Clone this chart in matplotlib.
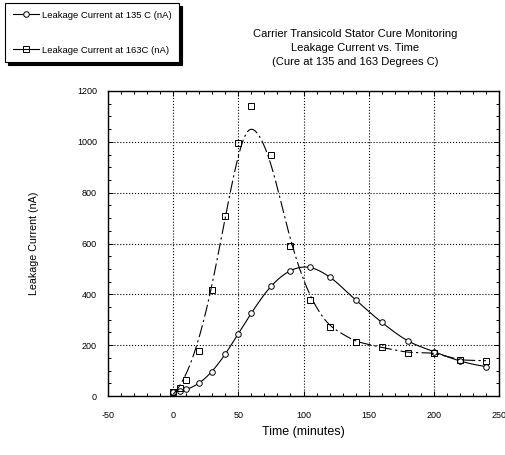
import numpy as np
import matplotlib.pyplot as plt
from matplotlib.ticker import MultipleLocator

plt.rcParams['font.family'] = ['Liberation Sans', 'DejaVu Sans']
plt.rcParams['axes.unicode_minus'] = False

# cure run at 135 C
t135 = [0, 5, 10, 20, 30, 40, 50, 60, 75, 90, 105, 120, 140, 160, 180, 200, 220, 240]
i135 = [17, 20, 27, 51, 96, 167, 245, 328, 432, 493, 507, 467, 378, 290, 217, 175, 138, 116]
# cure run at 163 C
t163 = [0, 5, 10, 20, 30, 40, 50, 60, 75, 90, 105, 120, 140, 160, 180, 200, 220, 240]
i163 = [17, 33, 64, 179, 417, 708, 994, 1142, 947, 591, 378, 270, 214, 191, 171, 170, 141, 139]

lab135 = 'Leakage Current at 135 C (nA)'
lab163 = 'Leakage Current at 163C (nA)'
title = 'Carrier Transicold Stator Cure Monitoring\nLeakage Current vs. Time\n(Cure at 135 and 163 Degrees C)'


def smooth(x, y, h, deg=2, n=400):
    # local polynomial regression with gaussian weights
    x = np.asarray(x, float); y = np.asarray(y, float)
    xs = np.linspace(x.min(), x.max(), n)
    ys = []
    for x0 in xs:
        w = np.exp(-0.5 * ((x - x0) / h) ** 2)
        A = np.vstack([(x - x0) ** p for p in range(deg + 1)]).T
        W = np.sqrt(w)
        coef = np.linalg.lstsq(A * W[:, None], y * W, rcond=None)[0]
        ys.append(coef[0])
    return xs, np.array(ys)


fig = plt.figure(figsize=(5.06, 4.55), dpi=100)
ax = fig.add_axes([108/506, 1-396/455, (499-108)/506, (396-91)/455])

xs, ys = smooth(t135, i135, 12)
ax.plot(xs, ys, '-', color='black', lw=0.8)
ax.plot(t135, i135, 'o', mfc='white', mec='black', ms=4, mew=0.7, ls='none')
xs, ys = smooth(t163, i163, 9.5, deg=1)
ax.plot(xs, ys, color='black', lw=0.8, dashes=(11, 3, 2, 3))
ax.plot(t163, i163, 's', mfc='none', mec='black', ms=4.5, mew=0.7, ls='none')

ax.set_xlim(-50, 250)
ax.set_ylim(0, 1200)
ax.xaxis.set_major_locator(MultipleLocator(50))
ax.xaxis.set_minor_locator(MultipleLocator(10))
ax.yaxis.set_major_locator(MultipleLocator(200))
ax.yaxis.set_minor_locator(MultipleLocator(50))
ax.tick_params(which='both', direction='in', top=True, right=True, labelsize=6.5, width=0.7)
ax.tick_params(which='major', length=3.5, pad=11)
ax.tick_params(which='minor', length=2.2)
ax.tick_params(axis='y', pad=8)
ax.grid(True, which='major', ls=':', color='black', lw=0.8)
for s in ax.spines.values():
    s.set_linewidth(1.0)

ax.set_xlabel('Time (minutes)', fontsize=9, labelpad=4)
ax.set_ylabel('Leakage Current (nA)', fontsize=7.7, labelpad=27)
fig.text(355/506, 1-48/455, title, ha='center', va='center', fontsize=8, linespacing=1.45)

# legend box with drop shadow
h1, = plt.plot([], [], '-o', color='black', mfc='white', ms=4, mew=0.7, lw=0.8)
h2, = plt.plot([], [], color='black', marker='s', mfc='none', ms=4.5, mew=0.7, lw=0.8)
leg = fig.legend([h1, h2], [lab135, lab163], loc='upper left', bbox_to_anchor=(5/506, 1-3/455),
                 borderaxespad=0, fontsize=6.8, frameon=True, fancybox=False,
                 shadow={'color': 'black', 'alpha': 1}, edgecolor='black',
                 labelspacing=2.75, handlelength=2.8, borderpad=0.8, handletextpad=0.3)
leg.get_frame().set_linewidth(0.8)

fig.savefig('out.png', dpi=100)
